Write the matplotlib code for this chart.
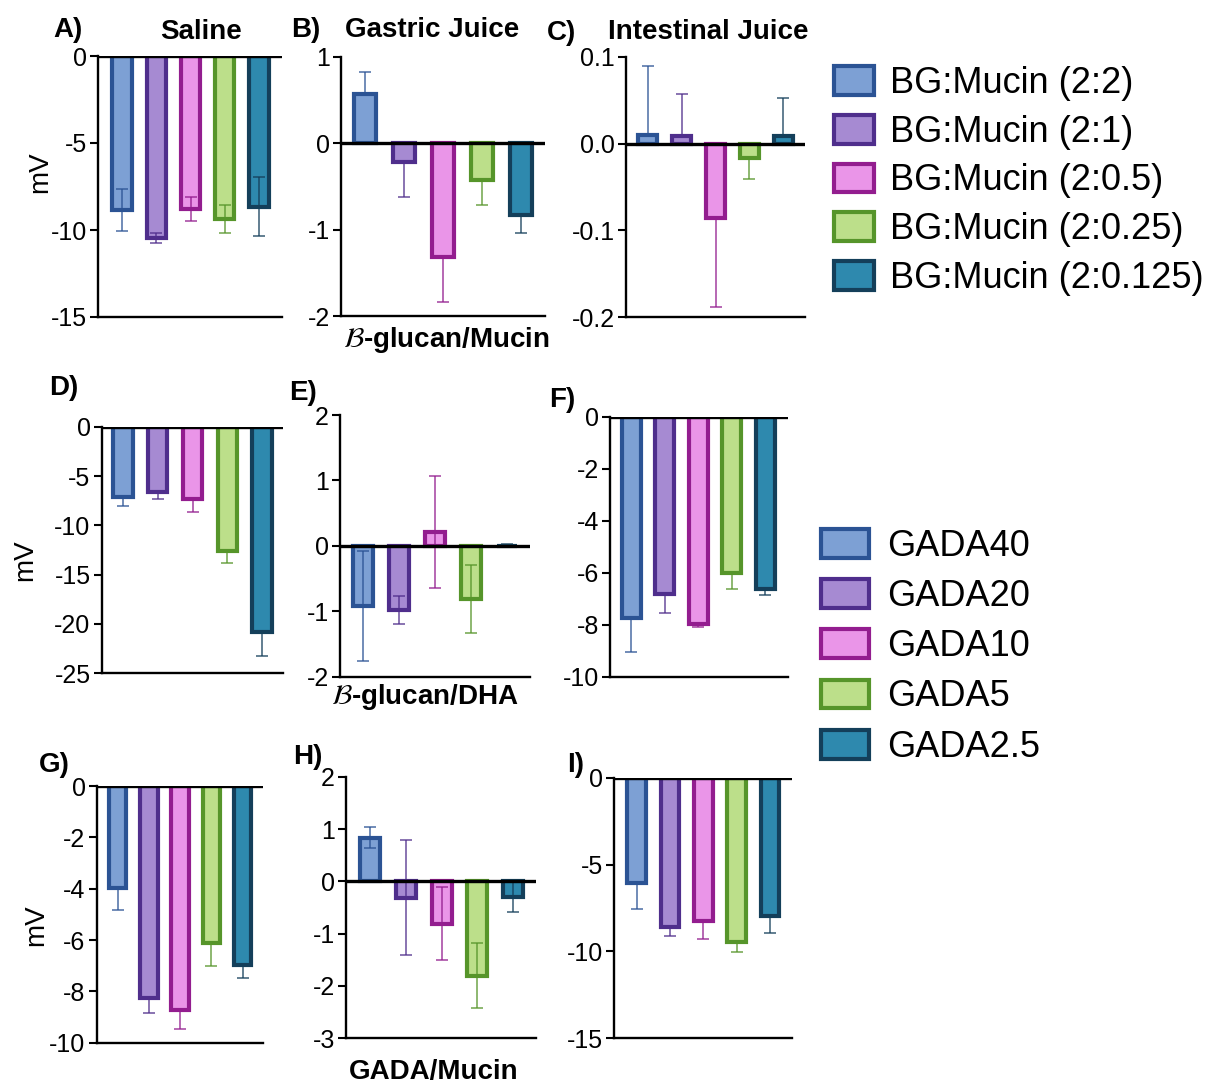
import matplotlib
matplotlib.use("Agg")
import matplotlib.pyplot as plt
from matplotlib.patches import Patch

plt.rcParams['font.family'] = ['Liberation Sans', 'DejaVu Sans']
plt.rcParams['axes.unicode_minus'] = False
plt.rcParams['mathtext.fontset'] = 'stix'

W, H = 1217, 1083

face_colors = ['#7DA0D4', '#A68AD2', '#EA95E8', '#BCDF8A', '#2E89AE']
edge_colors = ['#2B5394', '#4F2E8C', '#931D8F', '#56952A', '#143F5A']

bg_labels = ['BG:Mucin (2:2)', 'BG:Mucin (2:1)', 'BG:Mucin (2:0.5)',
             'BG:Mucin (2:0.25)', 'BG:Mucin (2:0.125)']
gada_labels = ['GADA40', 'GADA20', 'GADA10', 'GADA5', 'GADA2.5']

# mean values and error (SD)
a_vals = [-8.85, -10.45, -8.8, -9.35, -8.65]
a_err = [1.2, 0.3, 0.7, 0.8, 1.7]
b_vals = [0.57, -0.22, -1.32, -0.43, -0.83]
b_err = [0.25, 0.40, 0.52, 0.28, 0.21]
c_vals = [0.010, 0.009, -0.086, -0.017, 0.009]
c_err = [0.079, 0.048, 0.102, 0.024, 0.043]
d_vals = [-7.1, -6.6, -7.35, -12.6, -20.8]
d_err = [0.9, 0.75, 1.25, 1.25, 2.4]
e_vals = [-0.92, -0.98, 0.21, -0.81, 0.005]
e_err = [0.84, 0.22, 0.86, 0.52, 0.03]
f_vals = [-7.75, -6.8, -7.98, -6.02, -6.63]
f_err = [1.29, 0.75, 0.12, 0.62, 0.22]
g_vals = [-3.99, -8.27, -8.73, -6.13, -6.97]
g_err = [0.84, 0.59, 0.74, 0.88, 0.5]
h_vals = [0.83, -0.31, -0.81, -1.8, -0.29]
h_err = [0.2, 1.1, 0.7, 0.62, 0.3]
i_vals = [-6.08, -8.58, -8.23, -9.44, -7.96]
i_err = [1.5, 0.53, 1.07, 0.58, 1.0]

a_ticks = [0, -5, -10, -15]
b_ticks = [1, 0, -1, -2]
c_ticks = [0.1, 0.0, -0.1, -0.2]
d_ticks = [0, -5, -10, -15, -20, -25]
e_ticks = [2, 1, 0, -1, -2]
f_ticks = [0, -2, -4, -6, -8, -10]
g_ticks = [0, -2, -4, -6, -8, -10]
h_ticks = [2, 1, 0, -1, -2, -3]
i_ticks = [0, -5, -10, -15]

fig = plt.figure(figsize=(W / 100, H / 100), dpi=100)


def px_axes(left, right, top, bottom):
    return fig.add_axes([left / W, 1 - bottom / H, (right - left) / W, (bottom - top) / H])


def panel(box, vals, err, ticks, xlim, both=False, fmt='%d'):
    ax = px_axes(*box)
    x = list(range(len(vals)))
    ax.bar(x, vals, width=0.56, color=face_colors, edgecolor=edge_colors,
           linewidth=3.0, zorder=2)
    for xi, v, e, ec in zip(x, vals, err, edge_colors):
        if both:
            yerr = [[e], [e]]
        elif v < 0:
            yerr = [[e], [0]]
        else:
            yerr = [[0], [e]]
        ax.errorbar(xi, v, yerr=yerr, fmt='none', ecolor=ec, elinewidth=1.1,
                    capsize=4.5, capthick=1.1, alpha=0.85, zorder=3)
    ax.axhline(0, color='black', lw=2.4, zorder=4)
    ax.set_ylim(ticks[-1], ticks[0])
    ax.set_xlim(*xlim)
    ax.set_yticks(ticks)
    ax.set_yticklabels([fmt % t for t in ticks])
    ax.set_xticks([])
    for s in ['top', 'right']:
        ax.spines[s].set_visible(False)
    for s in ['left', 'bottom']:
        ax.spines[s].set_linewidth(1.7)
    ax.tick_params(axis='y', direction='out', length=6, width=1.5, labelsize=18, pad=2)
    ax.patch.set_alpha(0)
    return ax


panel((98, 282, 56, 317), a_vals, a_err, a_ticks, (-0.70, 4.67), both=True)
panel((341, 545, 56.7, 316), b_vals, b_err, b_ticks, (-0.615, 4.615))
panel((626, 805, 56.7, 317.3), c_vals, c_err, c_ticks, (-0.65, 4.65), fmt='%.1f')
panel((101.7, 283, 426.7, 673.3), d_vals, d_err, d_ticks, (-0.61, 4.60))
panel((340, 530, 415, 676.7), e_vals, e_err, e_ticks, (-0.64, 4.64), both=True)
panel((610, 787.7, 416.7, 676.7), f_vals, f_err, f_ticks, (-0.63, 4.67))
panel((96.7, 263, 786, 1042.7), g_vals, g_err, g_ticks, (-0.67, 4.65))
panel((346, 536, 776.7, 1038.3), h_vals, h_err, h_ticks, (-0.67, 4.64), both=True)
panel((614, 792.3, 777.7, 1038.3), i_vals, i_err, i_ticks, (-0.68, 4.67))


def ftext(x, y, s, **kw):
    fig.text(x / W, 1 - y / H, s, ha=kw.pop('ha', 'center'), va=kw.pop('va', 'center'), **kw)


bold = dict(fontsize=20, fontweight='bold')
ftext(53, 30, 'A)', ha='left', **bold)
ftext(201, 32, 'Saline', **bold)
ftext(291, 30, 'B)', ha='left', **bold)
ftext(432, 30, 'Gastric Juice', **bold)
ftext(547, 33, 'C)', ha='left', **bold)
ftext(708, 32, 'Intestinal Juice', **bold)
ftext(446, 340, r'$\mathcal{B}$-glucan/Mucin', **bold)
ftext(49, 388, 'D)', ha='left', **bold)
ftext(289, 393, 'E)', ha='left', **bold)
ftext(425, 697, r'$\mathcal{B}$-glucan/DHA', **bold)
ftext(549, 400, 'F)', ha='left', **bold)
ftext(39, 765, 'G)', ha='left', **bold)
ftext(293, 757, 'H)', ha='left', **bold)
ftext(434, 1072, 'GADA/Mucin', **bold)
ftext(567, 765, 'I)', ha='left', **bold)

ftext(40, 172, 'mV', fontsize=20, rotation=90)
ftext(25, 560, 'mV', fontsize=20, rotation=90)
ftext(36, 925, 'mV', fontsize=20, rotation=90)

h1 = [Patch(facecolor=fc, edgecolor=ec, linewidth=3.0, label=l)
      for fc, ec, l in zip(face_colors, edge_colors, bg_labels)]
h2 = [Patch(facecolor=fc, edgecolor=ec, linewidth=3.0, label=l)
      for fc, ec, l in zip(face_colors, edge_colors, gada_labels)]

fig.legend(handles=h1, loc='upper left', bbox_to_anchor=(834 / W, 1 - 66 / H),
           frameon=False, fontsize=26, handlelength=1.1, handleheight=0.85,
           handletextpad=0.45, labelspacing=0.38, borderpad=0, borderaxespad=0)
fig.legend(handles=h2, loc='upper left', bbox_to_anchor=(821 / W, 1 - 529 / H),
           frameon=False, fontsize=26, handlelength=1.33, handleheight=0.85,
           handletextpad=0.5, labelspacing=0.42, borderpad=0, borderaxespad=0)

fig.savefig('out.png', dpi=100)
